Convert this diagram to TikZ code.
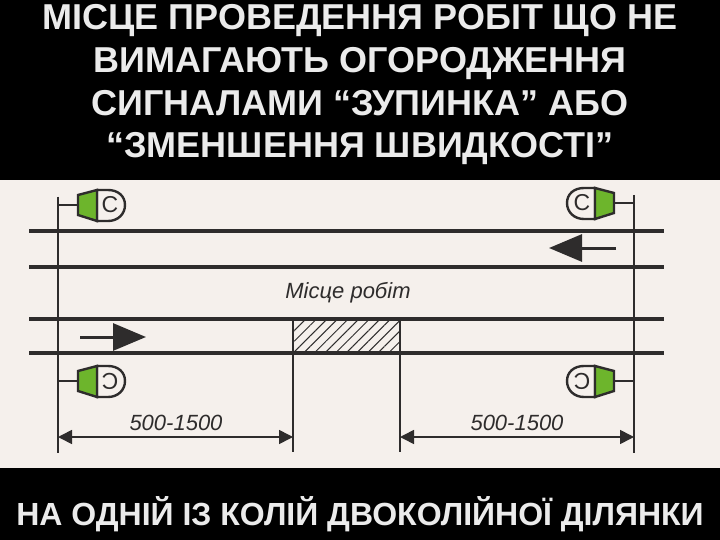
\documentclass[tikz,border=0pt]{standalone}
\usepackage{fontspec}
\setmainfont{Liberation Sans}
\usepackage{xcolor}
\usetikzlibrary{arrows.meta,patterns.meta,calc}
\definecolor{paper}{HTML}{F5F0EC}
\definecolor{ink}{HTML}{2E2C2C}
\definecolor{lamp}{HTML}{6DB52C}

\begin{document}
\begin{tikzpicture}[x=1pt,y=-1pt,
  band/.style={fill=black,draw=none},
  headline/.style={text=white!92!black,font=\fontsize{36}{36}\selectfont\bfseries,inner sep=0pt,anchor=base},
  track/.style={draw=ink,line width=3.4pt},
  post/.style={draw=ink,line width=2pt},
  lab/.style={text=ink,font=\fontsize{22}{22}\selectfont\itshape,inner sep=0pt},
  dimline/.style={draw=ink,line width=1.6pt,{Triangle[length=14pt,width=14pt]}-{Triangle[length=14pt,width=14pt]}},
  move/.style={draw=ink,line width=3pt,-{Triangle[length=33pt,width=27pt]}}]
\newcommand{\signalat}[5]{
  % #1 name, #2 post x, #3 y, #4 side, #5 letter angle
  \begin{scope}[shift={(#2,#3)},xscale=#4]
  \draw[post,line width=2.4pt] (0,-8) -- (0,8);
  \draw[post,line width=2.4pt] (0,0) -- (20,0);
  \draw[ink,line width=2.4pt,fill=paper] (39,-15) -- (50,-15) .. controls (60,-15) and (67,-9) .. (67,0) .. controls (67,9) and (60,16) .. (50,16) -- (39,16) -- cycle;
  \draw[ink,line width=2.4pt,fill=lamp] (20,-10) -- (39,-15) -- (39,16) -- (20,10) -- cycle;
  \node[rotate=#5,text=ink,font=\fontsize{23}{23}\selectfont,inner sep=0pt] (#1) at (52,0) {С};
  \end{scope}
}
\path[use as bounding box,fill=paper] (0,0) rectangle (720,540);
\fill[band] (0,0) rectangle (720,180);
\fill[band] (0,468) rectangle (720,540);
\node[headline] (title1) at (360,30) {МІСЦЕ ПРОВЕДЕННЯ РОБІТ ЩО НЕ};
\node[headline] (title2) at (360,73) {ВИМАГАЮТЬ ОГОРОДЖЕННЯ};
\node[headline] (title3) at (360,116) {СИГНАЛАМИ “ЗУПИНКА” АБО};
\node[headline] (title4) at (360,158) {“ЗМЕНШЕННЯ ШВИДКОСТІ”};
\node[headline,font=\fontsize{32}{32}\selectfont\bfseries] (caption) at (360,525) {НА ОДНІЙ ІЗ КОЛІЙ ДВОКОЛІЙНОЇ ДІЛЯНКИ};
% work zone under the tracks
\fill[pattern={Lines[angle=45,distance=7.5pt,line width=1pt]},pattern color=ink] (293,319) rectangle (400,353);
\foreach \y [count=\k] in {231,267,319,353} {
  \coordinate (tl\k) at (29,\y);
  \coordinate (tr\k) at (664,\y);
  \draw[track] (tl\k) -- (tr\k);
}
\foreach \nm/\x/\ya/\yb in {pa/58/197/453,pb/293/319/452,pc/400/319/452,pd/634/199/453} {
  \coordinate (\nm t) at (\x,\ya);
  \coordinate (\nm b) at (\x,\yb);
  \draw[post] (\nm t) -- (\nm b);
}
\signalat{siga}{58}{205}{1}{0}
\signalat{sigb}{634}{203}{-1}{0}
\signalat{sigc}{58}{381}{1}{180}
\signalat{sigd}{634}{381}{-1}{180}
% train directions
\coordinate (ma) at (616,248);
\coordinate (mb) at (549,248);
\coordinate (mc) at (80,337);
\coordinate (md) at (146,337);
\draw[move] (ma) -- (mb);
\draw[move] (mc) -- (md);
% distances
\coordinate (da) at (58,437);
\coordinate (db) at (293,437);
\coordinate (dc) at (400,437);
\coordinate (dd) at (634,437);
\draw[dimline] (da) -- (db);
\draw[dimline] (dc) -- (dd);
\node[lab] (lenl) at (176,423) {500-1500};
\node[lab] (lenr) at (517,423) {500-1500};
\node[lab] (worklab) at (348,293) {Місце робіт};
\end{tikzpicture}
\end{document}
